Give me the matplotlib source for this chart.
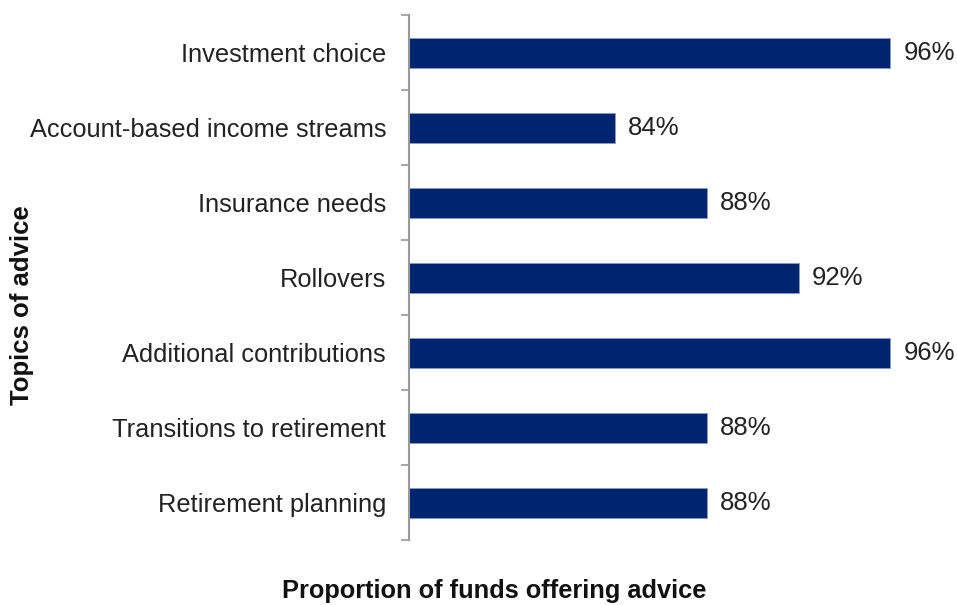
import matplotlib
matplotlib.use("Agg")
import matplotlib.pyplot as plt

topics = ["Investment choice", "Account-based income streams", "Insurance needs",
          "Rollovers", "Additional contributions", "Transitions to retirement",
          "Retirement planning"]
shares = [96, 84, 88, 92, 96, 88, 88]

plt.rcParams["font.family"] = ["Liberation Sans", "DejaVu Sans"]

W, H = 957, 605
fig = plt.figure(figsize=(W / 100, H / 100), dpi=100)
left, right, top, bottom = 409, 957, 15, 540
ax = fig.add_axes([left / W, 1 - bottom / H, (right - left) / W, (bottom - top) / H])

xmin = 75
xmax = xmin + (right - left) / 22.92
ypos = list(range(len(topics)))
ax.barh(ypos, shares, left=0, height=0.4, color="#002570", edgecolor="#8a9cc4",
        linewidth=0.6)
ax.set_xlim(xmin, xmax)
ax.set_ylim(len(topics) - 0.5, -0.5)

for y, v in zip(ypos, shares):
    ax.text(v + 0.57, y, f"{v}%", va="center", ha="left", fontsize=18.5,
            color="#222222")

ax.set_yticks(ypos)
ax.set_yticklabels(topics, fontsize=18.3, color="#222222")
ax.tick_params(axis="y", length=0, pad=16.5)
ax.set_yticks([i - 0.5 for i in range(len(topics) + 1)], minor=True)
ax.tick_params(axis="y", which="minor", length=6, color="#999999", width=1.2)
ax.set_xticks([])

for s in ["top", "right", "bottom"]:
    ax.spines[s].set_visible(False)
ax.spines["left"].set_color("#999999")
ax.spines["left"].set_linewidth(1.5)

fig.text(494 / W, 1 - 598 / H, "Proportion of funds offering advice", ha="center",
         va="baseline", fontsize=18.3, fontweight="bold", color="#111111")
fig.text(22 / W, 1 - 305 / H, "Topics of advice", ha="center", va="center",
         rotation=90, fontsize=18.5, fontweight="bold", color="#111111")

fig.savefig("out.png", dpi=100)
